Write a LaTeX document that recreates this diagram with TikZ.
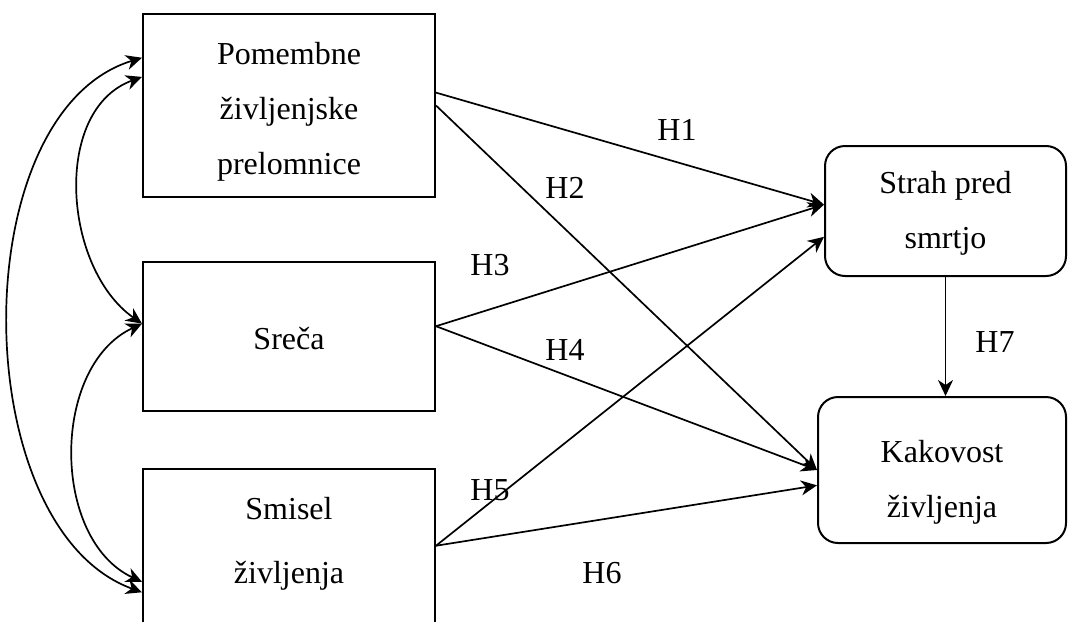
\documentclass[tikz,border=0pt]{standalone}
\usepackage{fontspec}
\setmainfont{Liberation Serif}
\usetikzlibrary{arrows.meta}

\begin{document}
\begin{tikzpicture}[x=0.5pt,y=-0.5pt,line width=0.85pt,
	>={Stealth[length=8pt,width=7.5pt,inset=2.5pt]},
	every node/.style={font=\fontsize{16}{27.5}\selectfont,align=center},
	var/.style={draw,line width=1pt,minimum width=146pt,inner sep=0pt},
	outc/.style={var,rounded corners=10pt,minimum width=120.5pt}] 

	\clip (0,0) rectangle (1068,621);

	% spremenljivke
	\node[var,minimum height=91.5pt] (pom) at (289,105.5) {}; 
	\node[var,minimum height=74.5pt] (sreca) at (289,336.5) {}; 
	\node[var,minimum height=100pt] (smisel) at (289,569) {}; 
	\node[outc,minimum height=65pt] (strah) at (945.5,211) {}; 
	\node[outc,minimum width=124pt,minimum height=73pt] (kak) at (942,470) {}; 

	\node (pomtxt) at (289,111.5) {Pomembne\\življenjske\\prelomnice}; 
	\node (srecatxt) at (289,338.5) {Sreča}; 
	\node[font=\fontsize{16}{32}\selectfont] (smiseltxt) at (289,543.5) {Smisel\\življenja}; 
	\node (strahtxt) at (945.5,213) {Strah pred\\smrtjo}; 
	\node (kaktxt) at (942,482) {Kakovost\\življenja}; 

	% hipoteze
	\draw[->] (pom.5) -- (strah.177);
	\draw[->] (pom.east) -- (kak.west);
	\draw[->] (sreca.4) -- (strah.177);
	\draw[->] (sreca.4) -- (kak.west);
	\draw[->] (smisel.9) -- (strah.192);
	\draw[->] (smisel.9) -- (kak.187);
	\draw[->] (strah.south) -- (strah.south |- kak.north);

	\node (h1) at (677,130) {H1};
	\node (h2) at (565,188) {H2};
	\node (h3) at (490,265) {H3};
	\node (h4) at (565,350) {H4};
	\node (h5) at (490,490) {H5};
	\node (h6) at (602,573) {H6};
	\node (h7) at (995,342) {H7};

	% korelacije
	\draw[<->] (pom.162) to[out=197,in=160,looseness=0.9] (smisel.189);
	\draw[<->] (pom.169) to[out=200,in=145] (sreca.175);
	\draw[<->] (sreca.175) to[out=205,in=155] (smisel.185);

\end{tikzpicture}
\end{document}
